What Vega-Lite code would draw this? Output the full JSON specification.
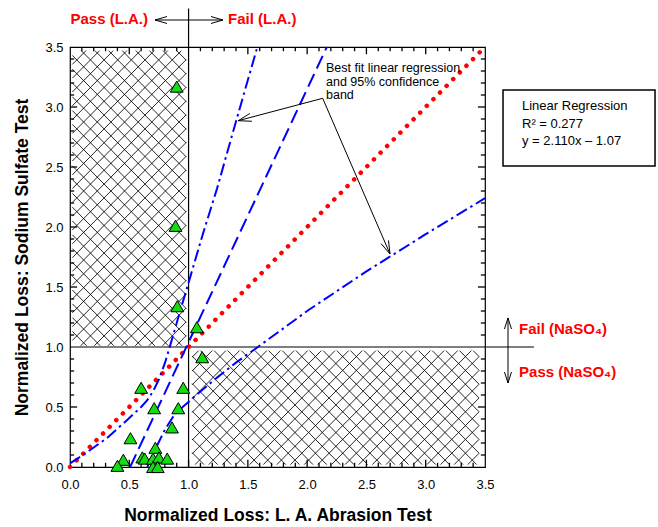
{
"$schema": "https://vega.github.io/schema/vega-lite/v6.json",
"width": 415, "height": 420,
"autosize": {"type": "none"},
"padding": {"left": 70, "top": 47, "right": 173, "bottom": 60},
"background": "white",
"config": {
 "view": {"stroke": "#000", "strokeWidth": 1.2},
 "axis": {"labelFont": "Liberation Sans", "titleFont": "Liberation Sans", "labelColor": "#000", "titleColor": "#000", "grid": false},
 "text": {"font": "Liberation Sans"}
},
"datasets": {
 "hatch": [
  {"x":0.895,"y":1.01,"x2":0.98,"y2":1.095},{"x":0.78,"y":1.01,"x2":0.98,"y2":1.21},{"x":0.665,"y":1.01,"x2":0.98,"y2":1.325},{"x":0.55,"y":1.01,"x2":0.98,"y2":1.44},{"x":0.435,"y":1.01,"x2":0.98,"y2":1.555},{"x":0.32,"y":1.01,"x2":0.98,"y2":1.67},{"x":0.205,"y":1.01,"x2":0.98,"y2":1.785},{"x":0.09,"y":1.01,"x2":0.98,"y2":1.9},{"x":0.02,"y":1.055,"x2":0.98,"y2":2.015},{"x":0.02,"y":1.17,"x2":0.98,"y2":2.13},{"x":0.02,"y":1.285,"x2":0.98,"y2":2.245},{"x":0.02,"y":1.4,"x2":0.98,"y2":2.36},{"x":0.02,"y":1.515,"x2":0.98,"y2":2.475},{"x":0.02,"y":1.63,"x2":0.98,"y2":2.59},{"x":0.02,"y":1.745,"x2":0.98,"y2":2.705},{"x":0.02,"y":1.86,"x2":0.98,"y2":2.82},{"x":0.02,"y":1.975,"x2":0.98,"y2":2.935},{"x":0.02,"y":2.09,"x2":0.98,"y2":3.05},{"x":0.02,"y":2.205,"x2":0.98,"y2":3.165},{"x":0.02,"y":2.32,"x2":0.98,"y2":3.28},{"x":0.02,"y":2.435,"x2":0.98,"y2":3.395},{"x":0.02,"y":2.55,"x2":0.94,"y2":3.47},{"x":0.02,"y":2.665,"x2":0.825,"y2":3.47},{"x":0.02,"y":2.78,"x2":0.71,"y2":3.47},{"x":0.02,"y":2.895,"x2":0.595,"y2":3.47},{"x":0.02,"y":3.01,"x2":0.48,"y2":3.47},{"x":0.02,"y":3.125,"x2":0.365,"y2":3.47},{"x":0.02,"y":3.24,"x2":0.25,"y2":3.47},{"x":0.02,"y":3.355,"x2":0.135,"y2":3.47},
  {"x":0.02,"y":1.13,"x2":0.14,"y2":1.01},{"x":0.02,"y":1.245,"x2":0.255,"y2":1.01},{"x":0.02,"y":1.36,"x2":0.37,"y2":1.01},{"x":0.02,"y":1.475,"x2":0.485,"y2":1.01},{"x":0.02,"y":1.59,"x2":0.6,"y2":1.01},{"x":0.02,"y":1.705,"x2":0.715,"y2":1.01},{"x":0.02,"y":1.82,"x2":0.83,"y2":1.01},{"x":0.02,"y":1.935,"x2":0.945,"y2":1.01},{"x":0.02,"y":2.05,"x2":0.98,"y2":1.09},{"x":0.02,"y":2.165,"x2":0.98,"y2":1.205},{"x":0.02,"y":2.28,"x2":0.98,"y2":1.32},{"x":0.02,"y":2.395,"x2":0.98,"y2":1.435},{"x":0.02,"y":2.51,"x2":0.98,"y2":1.55},{"x":0.02,"y":2.625,"x2":0.98,"y2":1.665},{"x":0.02,"y":2.74,"x2":0.98,"y2":1.78},{"x":0.02,"y":2.855,"x2":0.98,"y2":1.895},{"x":0.02,"y":2.97,"x2":0.98,"y2":2.01},{"x":0.02,"y":3.085,"x2":0.98,"y2":2.125},{"x":0.02,"y":3.2,"x2":0.98,"y2":2.24},{"x":0.02,"y":3.315,"x2":0.98,"y2":2.355},{"x":0.02,"y":3.43,"x2":0.98,"y2":2.47},{"x":0.095,"y":3.47,"x2":0.98,"y2":2.585},{"x":0.21,"y":3.47,"x2":0.98,"y2":2.7},{"x":0.325,"y":3.47,"x2":0.98,"y2":2.815},{"x":0.44,"y":3.47,"x2":0.98,"y2":2.93},{"x":0.555,"y":3.47,"x2":0.98,"y2":3.045},{"x":0.67,"y":3.47,"x2":0.98,"y2":3.16},{"x":0.785,"y":3.47,"x2":0.98,"y2":3.275},{"x":0.9,"y":3.47,"x2":0.98,"y2":3.39},
  {"x":1.03,"y":0.915,"x2":1.085,"y2":0.97},{"x":1.03,"y":0.8,"x2":1.2,"y2":0.97},{"x":1.03,"y":0.685,"x2":1.315,"y2":0.97},{"x":1.03,"y":0.57,"x2":1.43,"y2":0.97},{"x":1.03,"y":0.455,"x2":1.545,"y2":0.97},{"x":1.03,"y":0.34,"x2":1.66,"y2":0.97},{"x":1.03,"y":0.225,"x2":1.775,"y2":0.97},{"x":1.03,"y":0.11,"x2":1.89,"y2":0.97},{"x":1.055,"y":0.02,"x2":2.005,"y2":0.97},{"x":1.17,"y":0.02,"x2":2.12,"y2":0.97},{"x":1.285,"y":0.02,"x2":2.235,"y2":0.97},{"x":1.4,"y":0.02,"x2":2.35,"y2":0.97},{"x":1.515,"y":0.02,"x2":2.465,"y2":0.97},{"x":1.63,"y":0.02,"x2":2.58,"y2":0.97},{"x":1.745,"y":0.02,"x2":2.695,"y2":0.97},{"x":1.86,"y":0.02,"x2":2.81,"y2":0.97},{"x":1.975,"y":0.02,"x2":2.925,"y2":0.97},{"x":2.09,"y":0.02,"x2":3.04,"y2":0.97},{"x":2.205,"y":0.02,"x2":3.155,"y2":0.97},{"x":2.32,"y":0.02,"x2":3.27,"y2":0.97},{"x":2.435,"y":0.02,"x2":3.385,"y2":0.97},{"x":2.55,"y":0.02,"x2":3.45,"y2":0.92},{"x":2.665,"y":0.02,"x2":3.45,"y2":0.805},{"x":2.78,"y":0.02,"x2":3.45,"y2":0.69},{"x":2.895,"y":0.02,"x2":3.45,"y2":0.575},{"x":3.01,"y":0.02,"x2":3.45,"y2":0.46},{"x":3.125,"y":0.02,"x2":3.45,"y2":0.345},{"x":3.24,"y":0.02,"x2":3.45,"y2":0.23},{"x":3.355,"y":0.02,"x2":3.45,"y2":0.115},
  {"x":1.03,"y":0.12,"x2":1.13,"y2":0.02},{"x":1.03,"y":0.235,"x2":1.245,"y2":0.02},{"x":1.03,"y":0.35,"x2":1.36,"y2":0.02},{"x":1.03,"y":0.465,"x2":1.475,"y2":0.02},{"x":1.03,"y":0.58,"x2":1.59,"y2":0.02},{"x":1.03,"y":0.695,"x2":1.705,"y2":0.02},{"x":1.03,"y":0.81,"x2":1.82,"y2":0.02},{"x":1.03,"y":0.925,"x2":1.935,"y2":0.02},{"x":1.1,"y":0.97,"x2":2.05,"y2":0.02},{"x":1.215,"y":0.97,"x2":2.165,"y2":0.02},{"x":1.33,"y":0.97,"x2":2.28,"y2":0.02},{"x":1.445,"y":0.97,"x2":2.395,"y2":0.02},{"x":1.56,"y":0.97,"x2":2.51,"y2":0.02},{"x":1.675,"y":0.97,"x2":2.625,"y2":0.02},{"x":1.79,"y":0.97,"x2":2.74,"y2":0.02},{"x":1.905,"y":0.97,"x2":2.855,"y2":0.02},{"x":2.02,"y":0.97,"x2":2.97,"y2":0.02},{"x":2.135,"y":0.97,"x2":3.085,"y2":0.02},{"x":2.25,"y":0.97,"x2":3.2,"y2":0.02},{"x":2.365,"y":0.97,"x2":3.315,"y2":0.02},{"x":2.48,"y":0.97,"x2":3.43,"y2":0.02},{"x":2.595,"y":0.97,"x2":3.45,"y2":0.115},{"x":2.71,"y":0.97,"x2":3.45,"y2":0.23},{"x":2.825,"y":0.97,"x2":3.45,"y2":0.345},{"x":2.94,"y":0.97,"x2":3.45,"y2":0.46},{"x":3.055,"y":0.97,"x2":3.45,"y2":0.575},{"x":3.17,"y":0.97,"x2":3.45,"y2":0.69},{"x":3.285,"y":0.97,"x2":3.45,"y2":0.805},{"x":3.4,"y":0.97,"x2":3.45,"y2":0.92}
 ],
 "ticks": [
  {"x":0.1,"y":0,"x2":0.1,"y2":0.035},{"x":0.2,"y":0,"x2":0.2,"y2":0.035},{"x":0.3,"y":0,"x2":0.3,"y2":0.035},{"x":0.4,"y":0,"x2":0.4,"y2":0.035},{"x":0.5,"y":0,"x2":0.5,"y2":0.06},{"x":0.6,"y":0,"x2":0.6,"y2":0.035},{"x":0.7,"y":0,"x2":0.7,"y2":0.035},{"x":0.8,"y":0,"x2":0.8,"y2":0.035},{"x":0.9,"y":0,"x2":0.9,"y2":0.035},{"x":1.0,"y":0,"x2":1.0,"y2":0.06},{"x":1.1,"y":0,"x2":1.1,"y2":0.035},{"x":1.2,"y":0,"x2":1.2,"y2":0.035},{"x":1.3,"y":0,"x2":1.3,"y2":0.035},{"x":1.4,"y":0,"x2":1.4,"y2":0.035},{"x":1.5,"y":0,"x2":1.5,"y2":0.06},{"x":1.6,"y":0,"x2":1.6,"y2":0.035},{"x":1.7,"y":0,"x2":1.7,"y2":0.035},{"x":1.8,"y":0,"x2":1.8,"y2":0.035},{"x":1.9,"y":0,"x2":1.9,"y2":0.035},{"x":2.0,"y":0,"x2":2.0,"y2":0.06},{"x":2.1,"y":0,"x2":2.1,"y2":0.035},{"x":2.2,"y":0,"x2":2.2,"y2":0.035},{"x":2.3,"y":0,"x2":2.3,"y2":0.035},{"x":2.4,"y":0,"x2":2.4,"y2":0.035},{"x":2.5,"y":0,"x2":2.5,"y2":0.06},{"x":2.6,"y":0,"x2":2.6,"y2":0.035},{"x":2.7,"y":0,"x2":2.7,"y2":0.035},{"x":2.8,"y":0,"x2":2.8,"y2":0.035},{"x":2.9,"y":0,"x2":2.9,"y2":0.035},{"x":3.0,"y":0,"x2":3.0,"y2":0.06},{"x":3.1,"y":0,"x2":3.1,"y2":0.035},{"x":3.2,"y":0,"x2":3.2,"y2":0.035},{"x":3.3,"y":0,"x2":3.3,"y2":0.035},{"x":3.4,"y":0,"x2":3.4,"y2":0.035},
  {"x":0.1,"y":3.5,"x2":0.1,"y2":3.465},{"x":0.2,"y":3.5,"x2":0.2,"y2":3.465},{"x":0.3,"y":3.5,"x2":0.3,"y2":3.465},{"x":0.4,"y":3.5,"x2":0.4,"y2":3.465},{"x":0.5,"y":3.5,"x2":0.5,"y2":3.44},{"x":0.6,"y":3.5,"x2":0.6,"y2":3.465},{"x":0.7,"y":3.5,"x2":0.7,"y2":3.465},{"x":0.8,"y":3.5,"x2":0.8,"y2":3.465},{"x":0.9,"y":3.5,"x2":0.9,"y2":3.465},{"x":1.1,"y":3.5,"x2":1.1,"y2":3.465},{"x":1.2,"y":3.5,"x2":1.2,"y2":3.465},{"x":1.3,"y":3.5,"x2":1.3,"y2":3.465},{"x":1.4,"y":3.5,"x2":1.4,"y2":3.465},{"x":1.5,"y":3.5,"x2":1.5,"y2":3.44},{"x":1.6,"y":3.5,"x2":1.6,"y2":3.465},{"x":1.7,"y":3.5,"x2":1.7,"y2":3.465},{"x":1.8,"y":3.5,"x2":1.8,"y2":3.465},{"x":1.9,"y":3.5,"x2":1.9,"y2":3.465},{"x":2.0,"y":3.5,"x2":2.0,"y2":3.44},{"x":2.1,"y":3.5,"x2":2.1,"y2":3.465},{"x":2.2,"y":3.5,"x2":2.2,"y2":3.465},{"x":2.3,"y":3.5,"x2":2.3,"y2":3.465},{"x":2.4,"y":3.5,"x2":2.4,"y2":3.465},{"x":2.5,"y":3.5,"x2":2.5,"y2":3.44},{"x":2.6,"y":3.5,"x2":2.6,"y2":3.465},{"x":2.7,"y":3.5,"x2":2.7,"y2":3.465},{"x":2.8,"y":3.5,"x2":2.8,"y2":3.465},{"x":2.9,"y":3.5,"x2":2.9,"y2":3.465},{"x":3.0,"y":3.5,"x2":3.0,"y2":3.44},{"x":3.1,"y":3.5,"x2":3.1,"y2":3.465},{"x":3.2,"y":3.5,"x2":3.2,"y2":3.465},{"x":3.3,"y":3.5,"x2":3.3,"y2":3.465},{"x":3.4,"y":3.5,"x2":3.4,"y2":3.465},
  {"x":0,"y":0.1,"x2":0.035,"y2":0.1},{"x":0,"y":0.2,"x2":0.035,"y2":0.2},{"x":0,"y":0.3,"x2":0.035,"y2":0.3},{"x":0,"y":0.4,"x2":0.035,"y2":0.4},{"x":0,"y":0.5,"x2":0.06,"y2":0.5},{"x":0,"y":0.6,"x2":0.035,"y2":0.6},{"x":0,"y":0.7,"x2":0.035,"y2":0.7},{"x":0,"y":0.8,"x2":0.035,"y2":0.8},{"x":0,"y":0.9,"x2":0.035,"y2":0.9},{"x":0,"y":1.1,"x2":0.035,"y2":1.1},{"x":0,"y":1.2,"x2":0.035,"y2":1.2},{"x":0,"y":1.3,"x2":0.035,"y2":1.3},{"x":0,"y":1.4,"x2":0.035,"y2":1.4},{"x":0,"y":1.5,"x2":0.06,"y2":1.5},{"x":0,"y":1.6,"x2":0.035,"y2":1.6},{"x":0,"y":1.7,"x2":0.035,"y2":1.7},{"x":0,"y":1.8,"x2":0.035,"y2":1.8},{"x":0,"y":1.9,"x2":0.035,"y2":1.9},{"x":0,"y":2.0,"x2":0.06,"y2":2.0},{"x":0,"y":2.1,"x2":0.035,"y2":2.1},{"x":0,"y":2.2,"x2":0.035,"y2":2.2},{"x":0,"y":2.3,"x2":0.035,"y2":2.3},{"x":0,"y":2.4,"x2":0.035,"y2":2.4},{"x":0,"y":2.5,"x2":0.06,"y2":2.5},{"x":0,"y":2.6,"x2":0.035,"y2":2.6},{"x":0,"y":2.7,"x2":0.035,"y2":2.7},{"x":0,"y":2.8,"x2":0.035,"y2":2.8},{"x":0,"y":2.9,"x2":0.035,"y2":2.9},{"x":0,"y":3.0,"x2":0.06,"y2":3.0},{"x":0,"y":3.1,"x2":0.035,"y2":3.1},{"x":0,"y":3.2,"x2":0.035,"y2":3.2},{"x":0,"y":3.3,"x2":0.035,"y2":3.3},{"x":0,"y":3.4,"x2":0.035,"y2":3.4},
  {"x":3.5,"y":0.1,"x2":3.465,"y2":0.1},{"x":3.5,"y":0.2,"x2":3.465,"y2":0.2},{"x":3.5,"y":0.3,"x2":3.465,"y2":0.3},{"x":3.5,"y":0.4,"x2":3.465,"y2":0.4},{"x":3.5,"y":0.5,"x2":3.44,"y2":0.5},{"x":3.5,"y":0.6,"x2":3.465,"y2":0.6},{"x":3.5,"y":0.7,"x2":3.465,"y2":0.7},{"x":3.5,"y":0.8,"x2":3.465,"y2":0.8},{"x":3.5,"y":0.9,"x2":3.465,"y2":0.9},{"x":3.5,"y":1.1,"x2":3.465,"y2":1.1},{"x":3.5,"y":1.2,"x2":3.465,"y2":1.2},{"x":3.5,"y":1.3,"x2":3.465,"y2":1.3},{"x":3.5,"y":1.4,"x2":3.465,"y2":1.4},{"x":3.5,"y":1.5,"x2":3.44,"y2":1.5},{"x":3.5,"y":1.6,"x2":3.465,"y2":1.6},{"x":3.5,"y":1.7,"x2":3.465,"y2":1.7},{"x":3.5,"y":1.8,"x2":3.465,"y2":1.8},{"x":3.5,"y":1.9,"x2":3.465,"y2":1.9},{"x":3.5,"y":2.0,"x2":3.44,"y2":2.0},{"x":3.5,"y":2.1,"x2":3.465,"y2":2.1},{"x":3.5,"y":2.2,"x2":3.465,"y2":2.2},{"x":3.5,"y":2.3,"x2":3.465,"y2":2.3},{"x":3.5,"y":2.4,"x2":3.465,"y2":2.4},{"x":3.5,"y":2.5,"x2":3.44,"y2":2.5},{"x":3.5,"y":2.6,"x2":3.465,"y2":2.6},{"x":3.5,"y":2.7,"x2":3.465,"y2":2.7},{"x":3.5,"y":2.8,"x2":3.465,"y2":2.8},{"x":3.5,"y":2.9,"x2":3.465,"y2":2.9},{"x":3.5,"y":3.0,"x2":3.44,"y2":3.0},{"x":3.5,"y":3.1,"x2":3.465,"y2":3.1},{"x":3.5,"y":3.2,"x2":3.465,"y2":3.2},{"x":3.5,"y":3.3,"x2":3.465,"y2":3.3},{"x":3.5,"y":3.4,"x2":3.465,"y2":3.4}
 ],
 "refs": [{"x":1,"y":0,"x2":1,"y2":3.82},{"x":0,"y":1,"x2":3.913,"y2":1}],
 "diag": [{"x":0,"y":0},{"x":3.5,"y":3.5}],
 "reg": [{"x":0.507,"y":0},{"x":2.166,"y":3.5}],
 "upper": [{"x":0,"y":0.03},{"x":0.14,"y":0.12},{"x":0.31,"y":0.24},{"x":0.48,"y":0.39},{"x":0.6,"y":0.5},{"x":0.65,"y":0.555},{"x":0.7,"y":0.63},{"x":0.75,"y":0.73},{"x":0.8,"y":0.865},{"x":0.85,"y":1.03},{"x":0.9,"y":1.2},{"x":0.95,"y":1.37},{"x":1.01,"y":1.57},{"x":1.12,"y":1.94},{"x":1.24,"y":2.32},{"x":1.4,"y":2.88},{"x":1.58,"y":3.5}],
 "lower": [{"x":0.652,"y":0},{"x":0.72,"y":0.15},{"x":0.8,"y":0.31},{"x":0.87,"y":0.42},{"x":0.95,"y":0.5},{"x":1.1,"y":0.63},{"x":1.24,"y":0.745},{"x":1.4,"y":0.87},{"x":1.57,"y":0.99},{"x":2.0,"y":1.3},{"x":2.5,"y":1.63},{"x":3.0,"y":1.94},{"x":3.5,"y":2.24}],
 "arr": [
  {"g":1,"o":1,"x":0.818,"y":3.754},{"g":1,"o":2,"x":0.717,"y":3.725},{"g":1,"o":3,"x":0.818,"y":3.696},
  {"g":2,"o":1,"x":0.717,"y":3.725},{"g":2,"o":2,"x":1.29,"y":3.725},
  {"g":3,"o":1,"x":1.189,"y":3.754},{"g":3,"o":2,"x":1.29,"y":3.725},{"g":3,"o":3,"x":1.189,"y":3.696},
  {"g":4,"o":1,"x":3.694,"y":0.7},{"g":4,"o":2,"x":3.694,"y":1.242},
  {"g":5,"o":1,"x":3.664,"y":1.15},{"g":5,"o":2,"x":3.694,"y":1.242},{"g":5,"o":3,"x":3.723,"y":1.15},
  {"g":6,"o":1,"x":3.664,"y":0.792},{"g":6,"o":2,"x":3.694,"y":0.7},{"g":6,"o":3,"x":3.723,"y":0.792},
  {"g":7,"o":1,"x":2.131,"y":3.0725},{"g":7,"o":2,"x":1.419,"y":2.886},
  {"g":8,"o":1,"x":1.517,"y":2.946},{"g":8,"o":2,"x":1.419,"y":2.886},{"g":8,"o":3,"x":1.534,"y":2.881},
  {"g":9,"o":1,"x":2.131,"y":3.0725},{"g":9,"o":2,"x":2.699,"y":1.775},
  {"g":10,"o":1,"x":2.624,"y":1.861},{"g":10,"o":2,"x":2.699,"y":1.775},{"g":10,"o":3,"x":2.686,"y":1.888}
 ],
 "box": [{"x":3.652,"y":3.142,"x2":4.934,"y2":2.508}],
 "pts": [{"x":0.9,"y":3.17},{"x":0.89,"y":2.01},{"x":0.905,"y":1.34},{"x":1.07,"y":1.165},{"x":1.115,"y":0.915},{"x":0.6,"y":0.66},{"x":0.955,"y":0.66},{"x":0.71,"y":0.49},{"x":0.913,"y":0.49},{"x":0.86,"y":0.33},{"x":0.51,"y":0.24},{"x":0.72,"y":0.16},{"x":0.45,"y":0.06},{"x":0.4,"y":0.01},{"x":0.61,"y":0.08},{"x":0.63,"y":0.07},{"x":0.7,"y":0.07},{"x":0.75,"y":0.08},{"x":0.82,"y":0.07},{"x":0.7,"y":0.0},{"x":0.74,"y":0.0}],
 "redR": [{"x":0.658,"y":3.733,"t":"Pass (L.A.)"}],
 "redL": [{"x":1.333,"y":3.733,"t":"Fail (L.A.)"},{"x":3.787,"y":1.15,"t":"Fail (NaSO₄)"},{"x":3.787,"y":0.79,"t":"Pass (NaSO₄)"}],
 "legt": [{"x":3.812,"y":3.008,"t":"Linear Regression"},{"x":3.812,"y":2.8625,"t":"R² = 0.277"},{"x":3.812,"y":2.717,"t":"y = 2.110x – 1.07"}],
 "annt": [{"x":2.159,"y":3.325,"t":"Best fit linear regression"},{"x":2.159,"y":3.208,"t":"and 95% confidence"},{"x":2.159,"y":3.1,"t":"band"}]
},
"layer": [
 {"data": {"name": "hatch"}, "mark": {"type": "rule", "stroke": "#000", "strokeWidth": 0.85},
  "encoding": {
   "x": {"field": "x", "type": "quantitative", "scale": {"domain": [0, 3.5], "nice": false, "zero": false},
    "axis": {"orient": "bottom", "values": [0,0.5,1,1.5,2,2.5,3,3.5], "format": ".1f", "ticks": false, "domain": false, "labelFontSize": 13, "labelPadding": 11, "labelFlush": false, "labelOverlap": false, "labelBound": false, "title": "Normalized Loss: L. A. Abrasion Test", "titleFontSize": 17.5, "titleFontWeight": "bold", "titlePadding": 15}},
   "y": {"field": "y", "type": "quantitative", "scale": {"domain": [0, 3.5], "nice": false, "zero": false},
    "axis": {"orient": "left", "values": [0,0.5,1,1.5,2,2.5,3,3.5], "format": ".1f", "ticks": false, "domain": false, "labelFontSize": 13, "labelPadding": 7, "labelFlush": false, "labelOverlap": false, "labelBound": false, "title": "Normalized Loss: Sodium Sulfate Test", "titleFontSize": 17.5, "titleFontWeight": "bold", "titlePadding": 13}},
   "x2": {"field": "x2"}, "y2": {"field": "y2"}}},
 {"data": {"name": "ticks"}, "mark": {"type": "rule", "stroke": "#000", "strokeWidth": 1.3},
  "encoding": {"x": {"field": "x", "type": "quantitative"}, "y": {"field": "y", "type": "quantitative"}, "x2": {"field": "x2"}, "y2": {"field": "y2"}}},
 {"data": {"name": "refs"}, "mark": {"type": "rule", "stroke": "#000", "strokeWidth": 1.2},
  "encoding": {"x": {"field": "x", "type": "quantitative"}, "y": {"field": "y", "type": "quantitative"}, "x2": {"field": "x2"}, "y2": {"field": "y2"}}},
 {"data": {"name": "diag"}, "mark": {"type": "line", "stroke": "#ff0000", "strokeWidth": 4.5, "strokeDash": [0.1, 9.3], "strokeCap": "round"},
  "encoding": {"x": {"field": "x", "type": "quantitative"}, "y": {"field": "y", "type": "quantitative"}}},
 {"data": {"name": "reg"}, "mark": {"type": "line", "stroke": "#0000ff", "strokeWidth": 2, "strokeDash": [14, 6]},
  "encoding": {"x": {"field": "x", "type": "quantitative"}, "y": {"field": "y", "type": "quantitative"}}},
 {"data": {"name": "upper"}, "mark": {"type": "line", "stroke": "#0000ff", "strokeWidth": 2, "strokeDash": [12, 4, 2.5, 4]},
  "encoding": {"x": {"field": "x", "type": "quantitative"}, "y": {"field": "y", "type": "quantitative"}}},
 {"data": {"name": "lower"}, "mark": {"type": "line", "stroke": "#0000ff", "strokeWidth": 2, "strokeDash": [12, 4, 2.5, 4]},
  "encoding": {"x": {"field": "x", "type": "quantitative"}, "y": {"field": "y", "type": "quantitative"}}},
 {"data": {"name": "arr"}, "mark": {"type": "line", "stroke": "#000", "strokeWidth": 1},
  "encoding": {"x": {"field": "x", "type": "quantitative"}, "y": {"field": "y", "type": "quantitative"}, "detail": {"field": "g", "type": "nominal"}, "order": {"field": "o", "type": "quantitative"}}},
 {"data": {"name": "box"}, "mark": {"type": "rect", "fill": "white", "stroke": "#000", "strokeWidth": 1.5},
  "encoding": {"x": {"field": "x", "type": "quantitative"}, "y": {"field": "y", "type": "quantitative"}, "x2": {"field": "x2"}, "y2": {"field": "y2"}}},
 {"data": {"name": "pts"}, "mark": {"type": "point", "shape": "triangle-up", "size": 165, "filled": true, "fill": "#11dd11", "stroke": "#000", "strokeWidth": 1, "opacity": 1},
  "encoding": {"x": {"field": "x", "type": "quantitative"}, "y": {"field": "y", "type": "quantitative"}}},
 {"data": {"name": "redR"}, "mark": {"type": "text", "align": "right", "baseline": "middle", "font": "Liberation Sans", "fontSize": 15, "fontWeight": "bold", "color": "#ff0000"},
  "encoding": {"x": {"field": "x", "type": "quantitative"}, "y": {"field": "y", "type": "quantitative"}, "text": {"field": "t"}}},
 {"data": {"name": "redL"}, "mark": {"type": "text", "align": "left", "baseline": "middle", "font": "Liberation Sans", "fontSize": 15, "fontWeight": "bold", "color": "#ff0000"},
  "encoding": {"x": {"field": "x", "type": "quantitative"}, "y": {"field": "y", "type": "quantitative"}, "text": {"field": "t"}}},
 {"data": {"name": "legt"}, "mark": {"type": "text", "align": "left", "baseline": "middle", "font": "Liberation Sans", "fontSize": 13, "color": "#000"},
  "encoding": {"x": {"field": "x", "type": "quantitative"}, "y": {"field": "y", "type": "quantitative"}, "text": {"field": "t"}}},
 {"data": {"name": "annt"}, "mark": {"type": "text", "align": "left", "baseline": "middle", "font": "Liberation Sans", "fontSize": 12.5, "color": "#000"},
  "encoding": {"x": {"field": "x", "type": "quantitative"}, "y": {"field": "y", "type": "quantitative"}, "text": {"field": "t"}}}
]
}
